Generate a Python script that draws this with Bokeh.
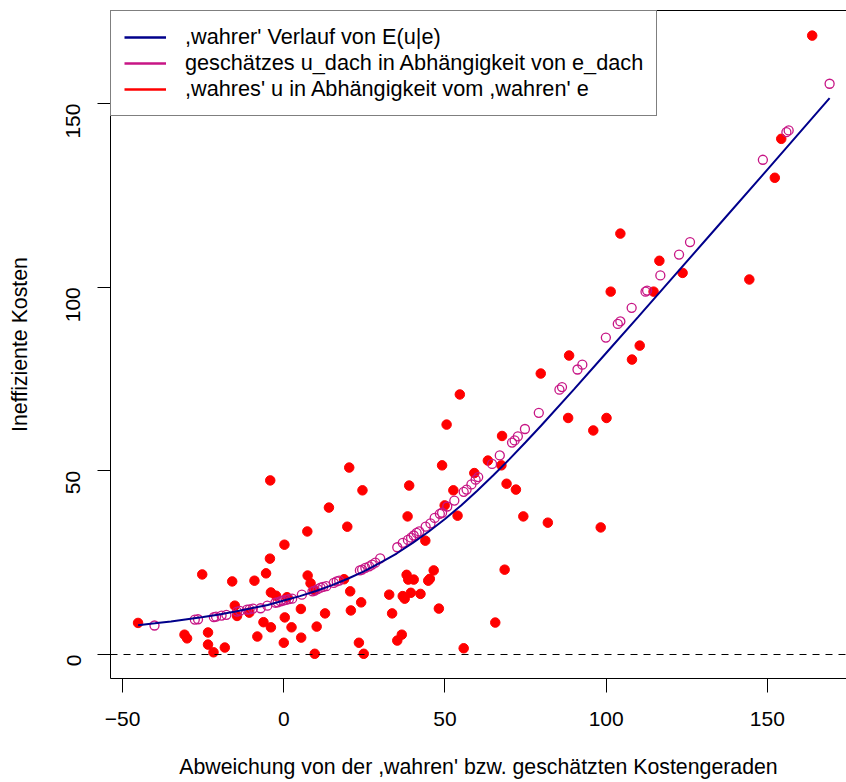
import math
from bokeh.plotting import figure
from bokeh.models import (ColumnDataSource, Range1d, LinearAxis, FixedTicker, Span,
                          Legend, LegendItem)
from bokeh.embed import file_html
from bokeh.resources import INLINE

# ---------------- data ----------------
true_e = [-45.2, -25.3, -30.8, -30.0, -23.5, -23.5, -21.8, -18.3, -16.0, -15.2,
          -14.5, -10.7, -9.1, -8.2, -6.3, -5.5, -4.3, -4.2, -4.0, -4.0,
          -2.4, 0.2, 0.3, 0.0, 1.0, 2.4, 5.3, 5.4, 7.3, 7.4,
          8.3, 9.4, 10.2, 9.6, 12.8, 14.0, 19.7, 20.3, 18.7, 20.6,
          20.8, 23.3, 24.4, 24.0, 24.8, 32.7, 33.6, 35.2,
          54.6, 50.5, 49.1, 38.9, 38.4, 52.6, 49.9, 53.9, 43.9, 59.1,
          63.3, 67.7, 67.5, 69.1, 72.0, 74.3, 81.9, 79.7, 88.5, 88.2,
          98.3, 100.1, 108.0, 68.5, 65.6, 55.8, 38.1, 38.6, 40.3, 44.8,
          45.3, 46.5, 36.9, 37.5, 39.4, 42.4, 48.1, 36.6,
          104.4, 116.5, 123.7, 144.4, 101.4, 114.7, 110.4, 96.0,
          154.3, 152.3, 163.9]
true_u = [8.6, 21.8, 5.4, 4.4, 6.0, 2.7, 0.6, 1.9, 19.9, 13.3,
          10.5, 11.4, 20.1, 4.9, 8.8, 22.1, 26.1, 47.4, 16.9, 7.4,
          16.0, 29.9, 10.1, 3.2, 15.6, 7.4, 12.4, 4.6, 33.5, 21.5,
          19.4, 17.6, 7.6, 0.2, 11.2, 40.0, 34.8, 50.9, 20.5, 17.2,
          12.0, 3.2, 44.7, 14.2, 0.2, 16.3, 11.2, 3.8,
          70.8, 62.6, 51.5, 46.0, 37.6, 44.7, 40.6, 37.8, 31.0, 49.4,
          52.8, 59.5, 51.5, 46.5, 44.9, 37.6, 35.9, 76.5, 81.4, 64.4,
          34.6, 64.4, 80.3, 23.1, 8.7, 1.7, 21.7, 20.4, 20.4, 20.1,
          20.6, 22.9, 15.9, 15.2, 16.8, 16.5, 12.5, 5.4,
          114.6, 107.2, 103.9, 102.1, 98.8, 98.8, 84.1, 61.0,
          140.4, 129.8, 168.5]

e_dach = [-40.1, -27.6, -26.6, -21.7, -21.0, -19.3, -17.8, -14.5, -13.6, -11.4,
          -10.6, -9.6, -7.2, -5.1, -2.6, -1.9, -1.0, -0.2, 0.7, 1.6,
          2.6, 5.6, 8.9, 9.6, 10.5, 11.4, 12.2, 13.2, 15.5, 16.4,
          17.2, 23.6, 24.3, 25.3, 26.5, 27.4, 28.4, 29.9, 35.2, 36.9,
          38.5, 39.5, 40.3, 41.2, 42.0, 44.0, 45.5, 46.8, 48.4, 49.1,
          50.7, 52.9, 55.8, 56.7, 58.2, 59.5, 60.3, 64.6, 67.0, 70.8,
          71.6, 72.6, 74.8, 79.1, 85.5, 86.3, 91.1, 92.6, 99.9, 103.6,
          104.4, 107.9, 112.2, 112.7, 116.8, 122.6, 126.0, 148.6, 155.9, 156.6,
          169.3]
u_dach = [7.9, 9.5, 9.6, 10.2, 10.3, 10.6, 10.8, 11.7, 11.9, 12.2,
          12.3, 12.5, 12.6, 13.3, 14.1, 14.2, 14.5, 14.7, 14.9, 15.1,
          15.2, 16.3, 17.2, 17.4, 17.8, 18.2, 18.4, 18.6, 19.5, 19.9,
          20.1, 22.9, 23.1, 23.6, 24.0, 24.5, 25.0, 26.2, 29.2, 30.4,
          31.2, 31.8, 32.4, 33.1, 33.5, 34.8, 35.7, 37.2, 38.3, 38.6,
          40.3, 41.9, 44.3, 44.9, 46.3, 47.6, 48.3, 51.9, 54.2, 57.7,
          58.3, 59.4, 61.4, 65.8, 72.1, 72.8, 77.6, 78.9, 86.3, 90.0,
          90.7, 94.4, 98.8, 99.1, 103.2, 108.9, 112.3, 134.7, 142.2, 142.7,
          155.4]

curve_e = [-45.2, -40, -35, -30, -25, -20, -15, -10, -5, 0,
           5, 10, 15, 20, 25, 30, 35, 40, 45, 50,
           55, 60, 65, 70, 75, 80, 90, 100, 110, 120,
           135, 150, 169.3]
curve_u = [8.0, 8.5, 9.0, 9.6, 10.2, 10.9, 11.7, 12.6, 13.5, 14.7,
           15.9, 17.3, 18.9, 20.7, 22.7, 25.0, 27.5, 30.4, 33.5, 36.9,
           40.6, 44.6, 48.8, 53.2, 57.8, 62.5, 72.2, 82.1, 92.0, 102.0,
           117.0, 132.0, 151.5]

x_ticks = [-50, 0, 50, 100, 150]
y_ticks = [0, 50, 100, 150]
x_tick_labels = {-50: "\u221250", 0: "0", 50: "50", 100: "100", 150: "150"}
legend_labels = [",wahrer' Verlauf von E(u|e)",
                 "geschätzes u_dach in Abhängigkeit von e_dach",
                 ",wahres' u in Abhängigkeit vom ,wahren' e"]
x_title = "Abweichung von der ,wahren' bzw. geschätzten Kostengeraden"
y_title = "Ineffiziente Kosten"
zero_level = 0

# ---------------- figure ----------------
FONT = "Liberation Sans"
TICK_FS = "21px"
TITLE_FS = "21.3px"
LEG_FS = "21.7px"
BLUE = "#00008B"
MAGENTA = "#C71585"
RED = "#FF0000"

X0, X1 = -53.75, 174.54
Y0, Y1 = -6.53, 175.34

p = figure(width=846, height=782, output_backend="svg", toolbar_location=None,
           x_range=Range1d(X0, X1), y_range=Range1d(Y0, Y1),
           min_border_left=110, min_border_right=0, min_border_top=10,
           min_border_bottom=104, x_axis_type=None, y_axis_type=None)
p.outline_line_color = None
p.xgrid.visible = False
p.ygrid.visible = False
p.background_fill_color = "white"
p.border_fill_color = "white"

def style_axis(ax):
    ax.axis_line_color = "black"
    ax.axis_line_width = 1
    ax.major_tick_line_color = "black"
    ax.major_tick_line_width = 1
    ax.major_tick_in = 0
    ax.major_tick_out = 14
    ax.minor_tick_in = 0
    ax.minor_tick_out = 0
    ax.major_label_text_font = FONT
    ax.major_label_text_font_size = TICK_FS
    ax.major_label_text_color = "black"
    ax.axis_label_text_font = FONT
    ax.axis_label_text_font_size = TITLE_FS
    ax.axis_label_text_font_style = "normal"
    ax.axis_label_text_color = "black"

xaxis = LinearAxis(ticker=FixedTicker(ticks=x_ticks), axis_label=x_title)
style_axis(xaxis)
xaxis.major_label_overrides = x_tick_labels
xaxis.major_label_standoff = 19
xaxis.axis_label_standoff = 26
p.add_layout(xaxis, "below")

yaxis = LinearAxis(ticker=FixedTicker(ticks=y_ticks), axis_label=y_title)
style_axis(yaxis)
yaxis.major_tick_out = 13
yaxis.major_label_orientation = math.pi / 2
yaxis.major_label_standoff = 24
yaxis.axis_label_standoff = 25
p.add_layout(yaxis, "left")

topaxis = LinearAxis(ticker=FixedTicker(ticks=[]))
topaxis.axis_line_color = "black"
topaxis.major_tick_out = 0
topaxis.major_tick_in = 0
topaxis.minor_tick_out = 0
topaxis.minor_tick_in = 0
topaxis.major_label_text_font_size = "0px"
p.add_layout(topaxis, "above")

# zero reference line (abline h = 0, dashed)
p.add_layout(Span(location=zero_level, dimension="width", line_color="black",
                  line_dash="7 6", line_width=1.2))

red_src = ColumnDataSource(dict(x=true_e, y=true_u))
hol_src = ColumnDataSource(dict(x=e_dach, y=u_dach))
cur_src = ColumnDataSource(dict(x=curve_e, y=curve_u))

p.scatter("x", "y", source=red_src, marker="circle", size=9.5,
          fill_color=RED, line_color=RED, line_width=1)
p.scatter("x", "y", source=hol_src, marker="circle", size=9,
          fill_color=None, line_color=MAGENTA, line_width=1.3)
p.line("x", "y", source=cur_src, line_color=BLUE, line_width=2)

# legend keys are plain lines, as in the original
nan = float("nan")
dummies = []
for col in (BLUE, MAGENTA, RED):
    dummies.append(p.line(x=[nan, nan], y=[nan, nan], line_color=col, line_width=2.7))
legend = Legend(items=[LegendItem(label=lab, renderers=[r])
                       for lab, r in zip(legend_labels, dummies)],
                location="top_left")
legend.margin = 0
legend.padding = 13
legend.spacing = 0
legend.glyph_width = 42
legend.glyph_height = 26
legend.label_height = 26
legend.label_standoff = 19
legend.label_text_font = FONT
legend.label_text_font_size = LEG_FS
legend.label_text_color = "black"
legend.border_line_color = "black"
legend.border_line_width = 1
legend.background_fill_color = "white"
legend.background_fill_alpha = 1
p.add_layout(legend)

open("out.html", "w").write(file_html(p, INLINE))
